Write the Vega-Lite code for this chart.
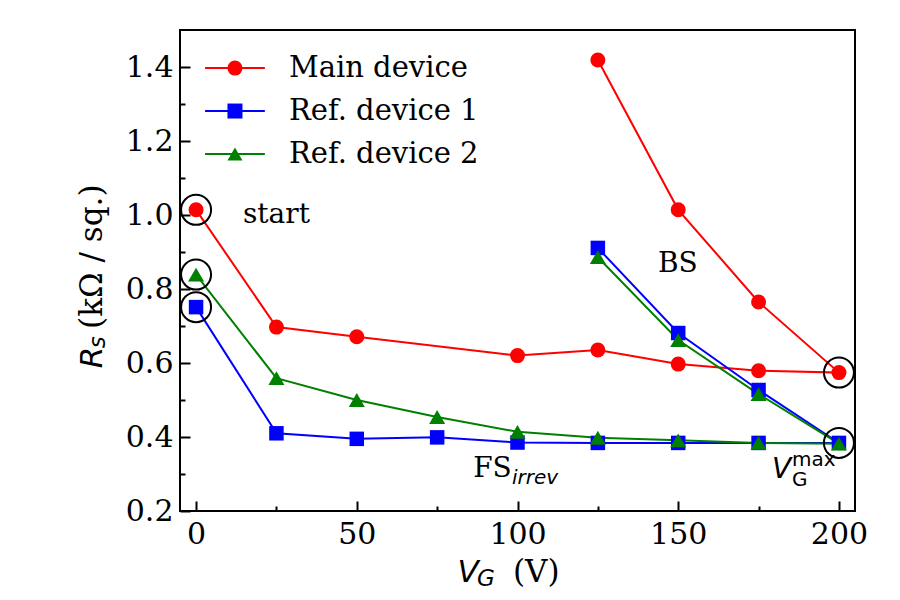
{
  "$schema": "https://vega.github.io/schema/vega-lite/v6.json",
  "width": 675,
  "height": 481,
  "autosize": {"type": "none"},
  "padding": {"left": 180, "top": 30, "right": 45, "bottom": 89},
  "background": "white",
  "config": {
    "view": {"stroke": "black", "strokeWidth": 2},
    "font": "DejaVu Serif"
  },
  "datasets": {
    "sweeps": [
      {"series": "Main device", "seq": 0, "vg": 0, "rs": 1.014},
      {"series": "Main device", "seq": 1, "vg": 25, "rs": 0.697},
      {"series": "Main device", "seq": 2, "vg": 50, "rs": 0.671},
      {"series": "Main device", "seq": 3, "vg": 100, "rs": 0.620},
      {"series": "Main device", "seq": 4, "vg": 125, "rs": 0.635},
      {"series": "Main device", "seq": 5, "vg": 150, "rs": 0.597},
      {"series": "Main device", "seq": 6, "vg": 175, "rs": 0.579},
      {"series": "Main device", "seq": 7, "vg": 200, "rs": 0.574},
      {"series": "Main device", "seq": 8, "vg": 175, "rs": 0.765},
      {"series": "Main device", "seq": 9, "vg": 150, "rs": 1.014},
      {"series": "Main device", "seq": 10, "vg": 125, "rs": 1.419},
      {"series": "Ref. device 1", "seq": 0, "vg": 0, "rs": 0.751},
      {"series": "Ref. device 1", "seq": 1, "vg": 25, "rs": 0.410},
      {"series": "Ref. device 1", "seq": 2, "vg": 50, "rs": 0.395},
      {"series": "Ref. device 1", "seq": 3, "vg": 75, "rs": 0.399},
      {"series": "Ref. device 1", "seq": 4, "vg": 100, "rs": 0.385},
      {"series": "Ref. device 1", "seq": 5, "vg": 125, "rs": 0.384},
      {"series": "Ref. device 1", "seq": 6, "vg": 150, "rs": 0.384},
      {"series": "Ref. device 1", "seq": 7, "vg": 175, "rs": 0.384},
      {"series": "Ref. device 1", "seq": 8, "vg": 200, "rs": 0.384},
      {"series": "Ref. device 1", "seq": 9, "vg": 175, "rs": 0.527},
      {"series": "Ref. device 1", "seq": 10, "vg": 150, "rs": 0.681},
      {"series": "Ref. device 1", "seq": 11, "vg": 125, "rs": 0.911},
      {"series": "Ref. device 2", "seq": 0, "vg": 0, "rs": 0.839},
      {"series": "Ref. device 2", "seq": 1, "vg": 25, "rs": 0.559},
      {"series": "Ref. device 2", "seq": 2, "vg": 50, "rs": 0.500},
      {"series": "Ref. device 2", "seq": 3, "vg": 75, "rs": 0.454},
      {"series": "Ref. device 2", "seq": 4, "vg": 100, "rs": 0.414},
      {"series": "Ref. device 2", "seq": 5, "vg": 125, "rs": 0.398},
      {"series": "Ref. device 2", "seq": 6, "vg": 150, "rs": 0.391},
      {"series": "Ref. device 2", "seq": 7, "vg": 175, "rs": 0.384},
      {"series": "Ref. device 2", "seq": 8, "vg": 200, "rs": 0.382},
      {"series": "Ref. device 2", "seq": 9, "vg": 175, "rs": 0.516},
      {"series": "Ref. device 2", "seq": 10, "vg": 150, "rs": 0.662},
      {"series": "Ref. device 2", "seq": 11, "vg": 125, "rs": 0.886}
    ]
  },
  "encoding": {
    "x": {
      "field": "vg",
      "type": "quantitative",
      "scale": {"domain": [-5, 205], "nice": false, "zero": false},
      "axis": {
        "title": null,
        "values": [0, 25, 50, 75, 100, 125, 150, 175, 200],
        "labelExpr": "datum.value % 50 === 0 ? datum.label : ''",
        "format": "d",
        "domain": false,
        "grid": false,
        "tickColor": "black",
        "tickWidth": 2,
        "tickSize": {"condition": {"test": "datum.value % 50 === 0", "value": -10}, "value": -5},
        "labelPadding": 18,
        "labelFont": "DejaVu Serif",
        "labelFontSize": 30,
        "labelColor": "black",
        "labelFlush": false,
        "labelOverlap": false
      }
    },
    "y": {
      "field": "rs",
      "type": "quantitative",
      "scale": {"domain": [0.2, 1.5], "nice": false, "zero": false},
      "axis": {
        "title": null,
        "values": [0.2, 0.3, 0.4, 0.5, 0.6, 0.7, 0.8, 0.9, 1.0, 1.1, 1.2, 1.3, 1.4],
        "labelExpr": "round(datum.value * 10) % 2 === 0 ? format(datum.value, '.1f') : ''",
        "domain": false,
        "grid": false,
        "tickColor": "black",
        "tickWidth": 2,
        "tickSize": {"condition": {"test": "round(datum.value * 10) % 2 === 0", "value": -10}, "value": -5},
        "labelPadding": 17,
        "labelFont": "DejaVu Serif",
        "labelFontSize": 30,
        "labelColor": "black",
        "labelFlush": false,
        "labelOverlap": false
      }
    }
  },
  "layer": [
    {
      "data": {"name": "sweeps"},
      "mark": {"type": "line", "strokeWidth": 2},
      "encoding": {
        "color": {
          "field": "series",
          "type": "nominal",
          "scale": {"domain": ["Main device", "Ref. device 1", "Ref. device 2"], "range": ["#ff0000", "#0000ff", "#008000"]},
          "legend": null
        },
        "order": {"field": "seq", "type": "quantitative"}
      }
    },
    {
      "data": {"name": "sweeps"},
      "transform": [{"filter": "datum.series === 'Main device'"}],
      "mark": {"type": "point", "shape": "circle", "filled": true, "opacity": 1, "size": 225},
      "encoding": {"color": {"field": "series", "type": "nominal", "legend": null}}
    },
    {
      "data": {"name": "sweeps"},
      "transform": [{"filter": "datum.series === 'Ref. device 1'"}],
      "mark": {"type": "point", "shape": "square", "filled": true, "opacity": 1, "size": 210},
      "encoding": {"color": {"field": "series", "type": "nominal", "legend": null}}
    },
    {
      "data": {"name": "sweeps"},
      "transform": [{"filter": "datum.series === 'Ref. device 2'"}],
      "mark": {"type": "point", "shape": "triangle-up", "filled": true, "opacity": 1, "size": 256},
      "encoding": {"color": {"field": "series", "type": "nominal", "legend": null}}
    },
    {
      "data": {"name": "sweeps"},
      "transform": [{"filter": "datum.seq === 0 || (datum.vg === 200 && datum.series !== 'Ref. device 2')"}],
      "mark": {"type": "point", "shape": "circle", "filled": false, "size": 900, "stroke": "black", "strokeWidth": 2, "opacity": 1}
    },
    {
      "data": {"values": [
        {"series": "Main device", "vg": 2.8, "rs": 1.397},
        {"series": "Main device", "vg": 21.4, "rs": 1.397},
        {"series": "Ref. device 1", "vg": 2.8, "rs": 1.281},
        {"series": "Ref. device 1", "vg": 21.4, "rs": 1.281},
        {"series": "Ref. device 2", "vg": 2.8, "rs": 1.165},
        {"series": "Ref. device 2", "vg": 21.4, "rs": 1.165}
      ]},
      "mark": {"type": "line", "strokeWidth": 2},
      "encoding": {"color": {"field": "series", "type": "nominal", "legend": null}}
    },
    {
      "data": {"values": [
        {"series": "Main device", "vg": 12.1, "rs": 1.397},
        {"series": "Ref. device 1", "vg": 12.1, "rs": 1.281},
        {"series": "Ref. device 2", "vg": 12.1, "rs": 1.165}
      ]},
      "mark": {"type": "point", "filled": true, "opacity": 1, "size": 225},
      "encoding": {
        "color": {"field": "series", "type": "nominal", "legend": null},
        "shape": {
          "field": "series",
          "type": "nominal",
          "scale": {"domain": ["Main device", "Ref. device 1", "Ref. device 2"], "range": ["circle", "square", "triangle-up"]},
          "legend": null
        }
      }
    },
    {
      "data": {"values": [
        {"series": "Main device", "vg": 28.9, "rs": 1.397},
        {"series": "Ref. device 1", "vg": 28.9, "rs": 1.281},
        {"series": "Ref. device 2", "vg": 28.9, "rs": 1.165}
      ]},
      "mark": {"type": "text", "align": "left", "baseline": "middle", "font": "DejaVu Serif", "fontSize": 29, "color": "black"},
      "encoding": {"text": {"field": "series"}}
    },
    {
      "data": {"values": [
        {"label": "start", "vg": 14.6, "rs": 0.978},
        {"label": "BS", "vg": 143.7, "rs": 0.846},
        {"label": "FS", "vg": 86.2, "rs": 0.292}
      ]},
      "mark": {"type": "text", "align": "left", "baseline": "alphabetic", "font": "DejaVu Serif", "fontSize": 28, "color": "black"},
      "encoding": {"text": {"field": "label"}}
    },
    {
      "data": {"values": [{"label": "irrev", "vg": 98.3, "rs": 0.274}]},
      "mark": {"type": "text", "align": "left", "baseline": "alphabetic", "font": "DejaVu Sans", "fontStyle": "oblique", "fontSize": 20, "color": "black"},
      "encoding": {"text": {"field": "label"}}
    },
    {
      "data": {"values": [{"label": "V", "vg": 179.2, "rs": 0.289}]},
      "mark": {"type": "text", "align": "left", "baseline": "alphabetic", "font": "DejaVu Sans", "fontStyle": "oblique", "fontSize": 28, "color": "black"},
      "encoding": {"text": {"field": "label"}}
    },
    {
      "data": {"values": [
        {"label": "G", "vg": 185.4, "rs": 0.267},
        {"label": "max", "vg": 185.4, "rs": 0.321}
      ]},
      "mark": {"type": "text", "align": "left", "baseline": "alphabetic", "font": "DejaVu Sans", "fontSize": 20, "color": "black"},
      "encoding": {"text": {"field": "label"}}
    },
    {
      "data": {"values": [{"label": "V", "vg": 81.3, "rs": 0.008}]},
      "mark": {"type": "text", "align": "left", "baseline": "alphabetic", "font": "DejaVu Sans", "fontStyle": "oblique", "fontSize": 31, "color": "black"},
      "encoding": {"text": {"field": "label"}}
    },
    {
      "data": {"values": [{"label": "G", "vg": 87.4, "rs": -0.002}]},
      "mark": {"type": "text", "align": "left", "baseline": "alphabetic", "font": "DejaVu Sans", "fontStyle": "oblique", "fontSize": 23, "color": "black"},
      "encoding": {"text": {"field": "label"}}
    },
    {
      "data": {"values": [{"label": "(V)", "vg": 98.6, "rs": 0.008}]},
      "mark": {"type": "text", "align": "left", "baseline": "alphabetic", "font": "DejaVu Serif", "fontSize": 31, "color": "black"},
      "encoding": {"text": {"field": "label"}}
    },
    {
      "data": {"values": [{"label": "R", "vg": -29.4, "rs": 0.586}]},
      "mark": {"type": "text", "angle": 270, "align": "left", "baseline": "alphabetic", "font": "DejaVu Sans", "fontStyle": "oblique", "fontSize": 31, "color": "black"},
      "encoding": {"text": {"field": "label"}}
    },
    {
      "data": {"values": [{"label": "s", "vg": -28.2, "rs": 0.640}]},
      "mark": {"type": "text", "angle": 270, "align": "left", "baseline": "alphabetic", "font": "DejaVu Sans", "fontStyle": "oblique", "fontSize": 23, "color": "black"},
      "encoding": {"text": {"field": "label"}}
    },
    {
      "data": {"values": [{"label": "(kΩ / sq.)", "vg": -29.4, "rs": 0.692}]},
      "mark": {"type": "text", "angle": 270, "align": "left", "baseline": "alphabetic", "font": "DejaVu Serif", "fontSize": 31, "color": "black"},
      "encoding": {"text": {"field": "label"}}
    }
  ]
}
